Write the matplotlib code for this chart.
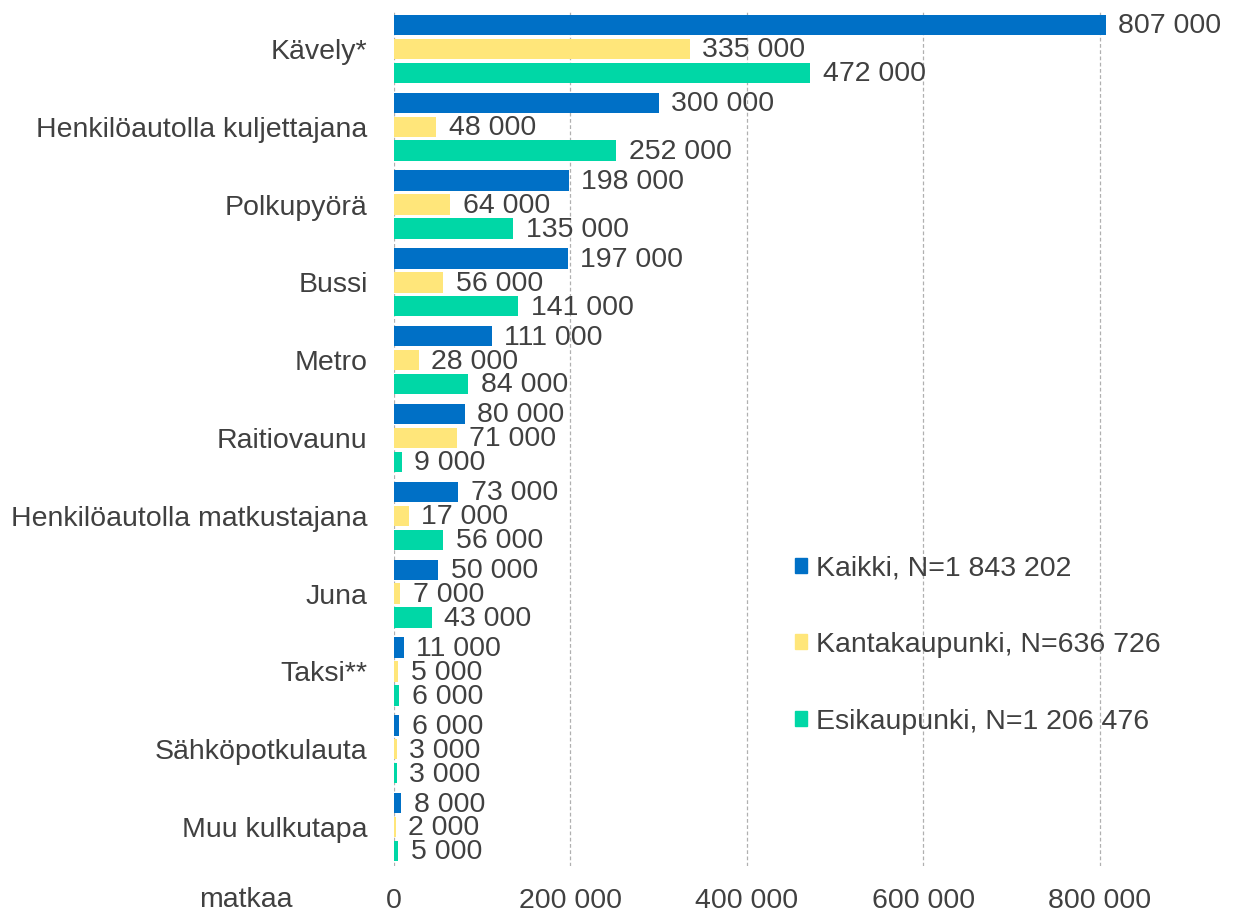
import matplotlib
matplotlib.use("Agg")
import matplotlib.pyplot as plt
import numpy as np
from matplotlib.patches import Patch

plt.rcParams['font.family'] = ['Liberation Sans', 'DejaVu Sans']

categories = ["Kävely*", "Henkilöautolla kuljettajana", "Polkupyörä", "Bussi", "Metro",
              "Raitiovaunu", "Henkilöautolla matkustajana", "Juna", "Taksi**",
              "Sähköpotkulauta", "Muu kulkutapa"]
kaikki = [807000, 300000, 198000, 197000, 111000, 80000, 73000, 50000, 11000, 6000, 8000]
kanta = [335000, 48000, 64000, 56000, 28000, 71000, 17000, 7000, 5000, 3000, 2000]
esi = [472000, 252000, 135000, 141000, 84000, 9000, 56000, 43000, 6000, 3000, 5000]
series_labels = ["Kaikki, N=1 843 202", "Kantakaupunki, N=636 726", "Esikaupunki, N=1 206 476"]
xticks = [0, 200000, 400000, 600000, 800000]

colors = ["#0070C6", "#FFE67A", "#00D7A6"]
txt = "#404040"

W, H = 1236, 918
fig = plt.figure(figsize=(W / 100, H / 100), dpi=100)
ax_l, ax_r, ax_t, ax_b = 394, 1188, 10, 866
ax = fig.add_axes([ax_l / W, 1 - ax_b / H, (ax_r - ax_l) / W, (ax_b - ax_t) / H])

y = np.arange(len(categories))
pitch = 0.307
h = 0.262
fs = 20.5
for i, (vals, c) in enumerate(zip([kaikki, kanta, esi], colors)):
    pos = y + (i - 1) * pitch
    ax.barh(pos, vals, height=h, color=c, zorder=3)
    for p, v in zip(pos, vals):
        ax.annotate(f"{v:,}".replace(",", " "), (v, p), xytext=(9, -1),
                    textcoords="offset points", va="center", ha="left",
                    fontsize=fs, color=txt, zorder=4)

ax.set_ylim(len(categories) - 0.5, -0.5)
ax.set_xlim(0, 900000)
ax.set_yticks(y)
ax.set_yticklabels(categories, fontsize=fs, color=txt)
ax.set_xticks(xticks)
ax.set_xticklabels([f"{t:,}".replace(",", " ") for t in xticks], fontsize=fs, color=txt)
ax.tick_params(axis='both', length=0)
ax.tick_params(axis='y', pad=19)
ax.tick_params(axis='x', pad=16)
for s in ax.spines.values():
    s.set_visible(False)
ax.grid(axis='x', linestyle=(0, (3, 2)), color="#B0B0B0", linewidth=0.9, zorder=0)

fig.text(246 / W, 1 - 900 / H, "matkaa", fontsize=fs, color=txt, ha="center", va="center")

handles = [Patch(color=c) for c in colors]
leg = ax.legend(handles, series_labels, loc="center left",
                bbox_to_anchor=((795 - ax_l) / (ax_r - ax_l), (ax_b - 645) / (ax_b - ax_t)),
                frameon=False, fontsize=fs, handlelength=0.42, handleheight=0.42,
                handletextpad=0.3, labelspacing=1.78, labelcolor=txt,
                borderaxespad=0, borderpad=0)

fig.savefig("out.png", dpi=100)
